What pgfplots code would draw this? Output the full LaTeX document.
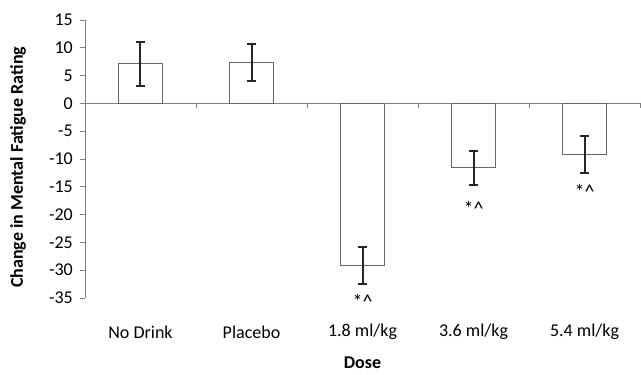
\documentclass[border=0pt]{standalone}
\usepackage{fontspec}
\setmainfont{Carlito}
\usepackage{pgfplots}
\pgfplotsset{compat=1.18}
\pgfplotstableread{
x y e
0 7.1 4.0
1 7.3 3.3
2 -29.1 3.3
3 -11.6 3.0
4 -9.2 3.4
}\datatable
\newcommand{\sig}{{\fontsize{20}{22}\selectfont *\char94\relax}}
\begin{document}
\fontsize{18}{21}\selectfont
\begin{tikzpicture}
\begin{axis}[
  scale only axis, width=555pt, height=278pt,
  xmin=-0.5, xmax=4.5, ymin=-35, ymax=15,
  axis y line*=left, axis x line*=bottom,
  x axis line style={draw=none},
  y axis line style={gray, line width=0.8pt},
  major x tick style={draw=none},
  major y tick style={gray, line width=0.8pt},
  tick align=outside, major tick length=5pt,
  ytick={-35,-30,...,15},
  xtick={0,1,2,3,4},
  xticklabels={No Drink, Placebo, 1.8 ml/kg, 3.6 ml/kg, 5.4 ml/kg},
  xticklabel style={anchor=center, yshift=-29pt},
  yticklabel style={xshift=-1pt},
  /pgf/number format/assume math mode=true,
  ylabel={\bfseries Change in Mental Fatigue Rating},
  ylabel style={at={(axis description cs:0,0.47)}, yshift=67pt, anchor=center},
  xlabel={\bfseries Dose},
  xlabel style={at={(axis description cs:0.5,0)}, yshift=-65pt, anchor=center},
  clip=false,
]
\path ([xshift=-85pt,yshift=-72pt]rel axis cs:0,0) rectangle ([xshift=1pt,yshift=20pt]rel axis cs:1,1);
\draw[gray, line width=0.8pt] (axis cs:-0.5,0) -- (axis cs:4.5,0);
\pgfplotsinvokeforeach{0.5,1.5,2.5,3.5,4.5}{
  \draw[gray, line width=0.8pt] (axis cs:#1,0) -- ([yshift=-5pt]axis cs:#1,0);
}
\addplot[ybar, bar width=44pt, fill=white, draw=black!60, line width=1.1pt,
  error bars/.cd, y dir=both, y explicit,
  error bar style={line width=2pt, black!85},
  error mark options={rotate=90, mark size=4.5pt, line width=2pt, black!85}]
  table[x=x, y=y, y error=e] {\datatable};
\node at (axis cs:2,-35.6) {\sig};
\node at (axis cs:3,-18.9) {\sig};
\node at (axis cs:4,-15.9) {\sig};
\end{axis}
\end{tikzpicture}
\end{document}
